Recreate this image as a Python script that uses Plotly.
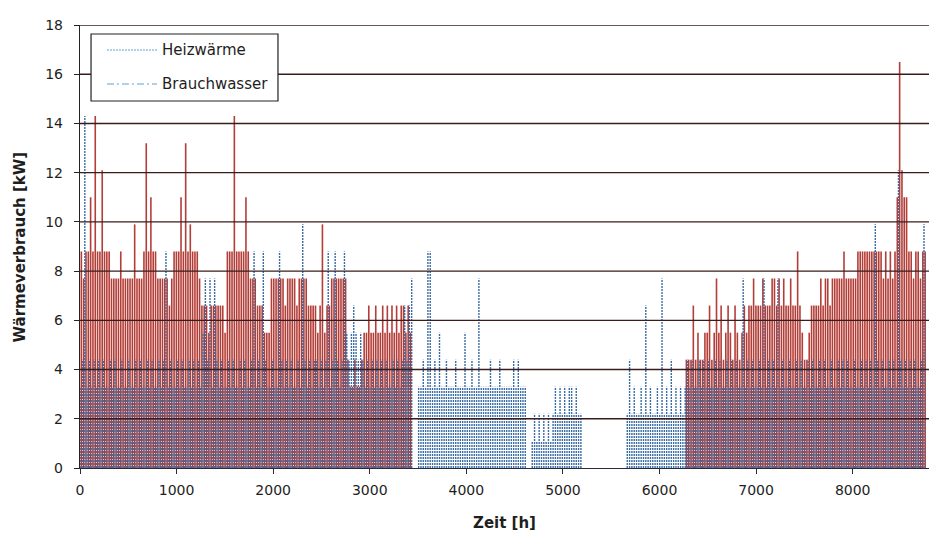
import plotly.graph_objects as go

# Daily peak loads in kW, one value per day of the year (day 0 = 1 January)
heizwaerme_daily_max = [
    8.8, 7.7, 8.8, 8.8, 11, 8.8, 14.3, 8.8, 8.8, 12.1,
    8.8, 8.8, 8.8, 7.7, 7.7, 7.7, 7.7, 8.8, 7.7, 7.7,
    7.7, 7.7, 7.7, 9.9, 7.7, 7.7, 7.7, 8.8, 13.2, 8.8,
    11, 8.8, 8.8, 7.7, 7.7, 7.7, 7.7, 7.7, 6.6, 7.7,
    8.8, 8.8, 8.8, 11, 8.8, 13.2, 8.8, 9.9, 8.8, 8.8,
    8.8, 7.7, 6.6, 6.6, 6.6, 5.5, 6.6, 6.6, 6.6, 6.6,
    6.6, 6.6, 5.5, 8.8, 8.8, 8.8, 14.3, 8.8, 8.8, 8.8,
    8.8, 11, 8.8, 7.7, 7.7, 7.7, 6.6, 6.6, 6.6, 5.5,
    5.5, 5.5, 7.7, 7.7, 7.7, 7.7, 7.7, 7.7, 6.6, 7.7,
    7.7, 7.7, 7.7, 6.6, 7.7, 7.7, 7.7, 7.7, 6.6, 6.6,
    6.6, 6.6, 5.5, 6.6, 9.9, 5.5, 6.6, 6.6, 7.7, 7.7,
    7.7, 7.7, 7.7, 7.7, 7.7, 4.4, 3.3, 3.3, 4.4, 3.3,
    3.3, 4.4, 5.5, 5.5, 6.6, 5.5, 5.5, 6.6, 5.5, 5.5,
    6.6, 5.5, 6.6, 5.5, 6.6, 5.5, 6.6, 5.5, 6.6, 6.6,
    5.5, 6.6, 5.5, 0, 0, 0, 0, 0, 0, 0,
    0, 0, 0, 0, 0, 0, 0, 0, 0, 0,
    0, 0, 0, 0, 0, 0, 0, 0, 0, 0,
    0, 0, 0, 0, 0, 0, 0, 0, 0, 0,
    0, 0, 0, 0, 0, 0, 0, 0, 0, 0,
    0, 0, 0, 0, 0, 0, 0, 0, 0, 0,
    0, 0, 0, 0, 0, 0, 0, 0, 0, 0,
    0, 0, 0, 0, 0, 0, 0, 0, 0, 0,
    0, 0, 0, 0, 0, 0, 0, 0, 0, 0,
    0, 0, 0, 0, 0, 0, 0, 0, 0, 0,
    0, 0, 0, 0, 0, 0, 0, 0, 0, 0,
    0, 0, 0, 0, 0, 0, 0, 0, 0, 0,
    0, 4.4, 4.4, 4.4, 6.6, 4.4, 5.5, 4.4, 4.4, 5.5,
    5.5, 6.6, 4.4, 5.5, 7.7, 5.5, 6.6, 4.4, 5.5, 6.6,
    5.5, 4.4, 6.6, 5.5, 4.4, 5.5, 6.6, 5.5, 6.6, 6.6,
    7.7, 6.6, 6.6, 6.6, 7.7, 6.6, 6.6, 6.6, 7.7, 7.7,
    6.6, 7.7, 6.6, 7.7, 6.6, 6.6, 7.7, 6.6, 6.6, 8.8,
    6.6, 5.5, 4.4, 4.4, 5.5, 6.6, 6.6, 6.6, 6.6, 7.7,
    6.6, 7.7, 7.7, 6.6, 7.7, 7.7, 7.7, 7.7, 7.7, 8.8,
    7.7, 7.7, 7.7, 7.7, 7.7, 8.8, 8.8, 8.8, 8.8, 8.8,
    8.8, 8.8, 8.8, 8.8, 8.8, 8.8, 7.7, 8.8, 7.7, 8.8,
    7.7, 8.8, 11, 16.5, 12.1, 11, 11, 8.8, 8.8, 7.7,
    8.8, 8.8, 7.7, 8.8, 8.8,
]

brauchwasser_daily_max = [
    3.3, 4.4, 14.3, 3.3, 4.4, 3.3, 4.4, 3.3, 4.4, 3.3,
    4.4, 3.3, 3.3, 4.4, 3.3, 4.4, 3.3, 3.3, 4.4, 3.3,
    3.3, 4.4, 3.3, 3.3, 4.4, 3.3, 4.4, 3.3, 3.3, 4.4,
    3.3, 4.4, 3.3, 3.3, 4.4, 3.3, 4.4, 8.8, 3.3, 4.4,
    3.3, 3.3, 4.4, 3.3, 4.4, 3.3, 3.3, 4.4, 3.3, 4.4,
    3.3, 4.4, 3.3, 5.5, 7.7, 4.4, 7.7, 3.3, 7.7, 4.4,
    3.3, 4.4, 3.3, 3.3, 4.4, 3.3, 4.4, 3.3, 3.3, 4.4,
    3.3, 4.4, 3.3, 3.3, 4.4, 8.8, 3.3, 4.4, 3.3, 8.8,
    4.4, 3.3, 3.3, 4.4, 3.3, 3.3, 8.8, 4.4, 3.3, 4.4,
    3.3, 4.4, 3.3, 3.3, 4.4, 3.3, 9.9, 4.4, 3.3, 4.4,
    3.3, 4.4, 4.4, 3.3, 4.4, 3.3, 4.4, 8.8, 3.3, 4.4,
    8.8, 4.4, 3.3, 4.4, 8.8, 5.5, 4.4, 5.5, 6.6, 5.5,
    4.4, 5.5, 4.4, 3.3, 4.4, 3.3, 4.4, 3.3, 4.4, 3.3,
    4.4, 3.3, 4.4, 3.3, 3.3, 4.4, 3.3, 4.4, 3.3, 4.4,
    6.6, 4.4, 6.6, 7.7, 0, 0, 3.3, 3.3, 4.4, 3.3,
    8.8, 8.8, 3.3, 4.4, 3.3, 5.5, 3.3, 3.3, 4.4, 3.3,
    3.3, 3.3, 4.4, 3.3, 3.3, 3.3, 5.5, 3.3, 3.3, 4.4,
    3.3, 3.3, 7.7, 3.3, 3.3, 3.3, 3.3, 4.4, 3.3, 3.3,
    3.3, 4.4, 3.3, 3.3, 3.3, 3.3, 3.3, 4.4, 3.3, 4.4,
    3.3, 3.3, 3.3, 0, 0, 1.1, 2.2, 1.1, 2.2, 1.1,
    2.2, 1.1, 2.2, 1.1, 2.2, 3.3, 2.2, 3.3, 2.2, 3.3,
    2.2, 3.3, 3.3, 2.2, 3.3, 2.2, 2.2, 0, 0, 0,
    0, 0, 0, 0, 0, 0, 0, 0, 0, 0,
    0, 0, 0, 0, 0, 0, 2.2, 4.4, 2.2, 3.3,
    2.2, 2.2, 3.3, 2.2, 6.6, 2.2, 3.3, 2.2, 2.2, 3.3,
    2.2, 7.7, 2.2, 3.3, 2.2, 4.4, 2.2, 3.3, 2.2, 3.3,
    2.2, 3.3, 4.4, 3.3, 4.4, 3.3, 3.3, 4.4, 3.3, 4.4,
    3.3, 4.4, 3.3, 3.3, 4.4, 3.3, 4.4, 3.3, 3.3, 4.4,
    3.3, 4.4, 3.3, 4.4, 3.3, 3.3, 7.7, 3.3, 4.4, 3.3,
    4.4, 3.3, 3.3, 4.4, 3.3, 7.7, 3.3, 4.4, 3.3, 4.4,
    3.3, 7.7, 3.3, 4.4, 3.3, 3.3, 4.4, 3.3, 3.3, 4.4,
    3.3, 4.4, 3.3, 3.3, 4.4, 3.3, 4.4, 3.3, 3.3, 4.4,
    3.3, 4.4, 3.3, 3.3, 4.4, 3.3, 3.3, 4.4, 3.3, 4.4,
    3.3, 4.4, 3.3, 3.3, 4.4, 3.3, 3.3, 4.4, 3.3, 4.4,
    3.3, 4.4, 3.3, 9.9, 4.4, 3.3, 4.4, 3.3, 3.3, 4.4,
    3.3, 4.4, 3.3, 12.1, 4.4, 3.3, 4.4, 3.3, 4.4, 3.3,
    4.4, 3.3, 3.3, 4.4, 9.9,
]

series_names = ["Heizwärme", "Brauchwasser"]
y_tick_values = [0, 2, 4, 6, 8, 10, 12, 14, 16, 18]
x_tick_values = [0, 1000, 2000, 3000, 4000, 5000, 6000, 7000, 8000]

HOURS_PER_DAY = 24
FONT = "DejaVu Sans"
TEXT_COLOR = "#1e1e1e"
RED = "rgba(172,44,38,0.92)"
BLUE = "#3a6ca6"
LEGEND_BLUE = "#5aa4d2"
GRID = "#3b1c1c"


def daily_strokes(values, hour_in_day):
    """One vertical stroke per day, from 0 up to that day's peak."""
    xs, ys = [], []
    for day, peak in enumerate(values):
        if peak <= 0:
            continue
        hour = day * HOURS_PER_DAY + hour_in_day
        xs += [hour, hour, None]
        ys += [0, peak, None]
    return xs, ys


fig = go.Figure()

# space heating peaks around midday of each day
hx, hy = daily_strokes(heizwaerme_daily_max, 14)
fig.add_trace(go.Scatter(
    x=hx, y=hy, mode="lines", name=series_names[0], showlegend=False,
    line=dict(color=RED, width=1.6),
    hoverinfo="skip",
))

# hot water strokes sit between the heating strokes
bx, by = daily_strokes(brauchwasser_daily_max, 2)
fig.add_trace(go.Scatter(
    x=bx, y=by, mode="lines", name=series_names[1], showlegend=False,
    line=dict(color=BLUE, width=1.4, dash="2px,1px"),
    hoverinfo="skip",
))

# horizontal grid drawn over the data
shapes = []
for v in y_tick_values[1:]:
    shapes.append(dict(
        type="line", xref="paper", yref="y", x0=0, x1=1, y0=v, y1=v,
        line=dict(color=GRID, width=1.4), layer="above",
    ))

# legend box with line samples
shapes.append(dict(
    type="rect", xref="paper", yref="paper",
    x0=0.013, x1=0.2332, y0=0.8284, y1=0.9797,
    line=dict(color="#222222", width=1.2), fillcolor="white", layer="above",
))
shapes.append(dict(
    type="line", xref="paper", yref="paper",
    x0=0.0318, x1=0.0907, y0=0.9436, y1=0.9436,
    line=dict(color=LEGEND_BLUE, width=1.2, dash="2px,1px"), layer="above",
))
shapes.append(dict(
    type="line", xref="paper", yref="paper",
    x0=0.0318, x1=0.0907, y0=0.8668, y1=0.8668,
    line=dict(color=LEGEND_BLUE, width=1.2, dash="7px,3px,2px,3px"), layer="above",
))

annotations = [
    dict(text=series_names[0], xref="paper", yref="paper", x=0.0942, y=0.9436,
         xanchor="left", yanchor="middle", showarrow=False,
         font=dict(family=FONT, size=15, color=TEXT_COLOR)),
    dict(text=series_names[1], xref="paper", yref="paper", x=0.0942, y=0.8668,
         xanchor="left", yanchor="middle", showarrow=False,
         font=dict(family=FONT, size=15, color=TEXT_COLOR)),
    dict(text="<b>Wärmeverbrauch [kW]</b>", xref="paper", yref="paper",
         x=-0.0707, y=0.5, xanchor="center", yanchor="middle", textangle=-90,
         showarrow=False, font=dict(family=FONT, size=15, color=TEXT_COLOR)),
    dict(text="<b>Zeit [h]</b>", xref="paper", yref="paper",
         x=0.5, y=-0.124, xanchor="center", yanchor="middle",
         showarrow=False, font=dict(family=FONT, size=15, color=TEXT_COLOR)),
]

fig.update_layout(
    width=929, height=535,
    margin=dict(l=80, r=0, t=25, b=67),
    paper_bgcolor="white", plot_bgcolor="white",
    showlegend=False,
    shapes=shapes,
    annotations=annotations,
    font=dict(family=FONT, size=14, color=TEXT_COLOR),
    xaxis=dict(
        range=[0, 8790], tickvals=x_tick_values,
        ticktext=[str(v) for v in x_tick_values],
        showgrid=False, zeroline=False,
        showline=True, linecolor="#2a2a3a", linewidth=1.4,
        ticks="outside", ticklen=5, tickcolor="#2a2a3a",
        ticklabelstandoff=4,
        tickfont=dict(family=FONT, size=14, color=TEXT_COLOR),
        layer="above traces",
    ),
    yaxis=dict(
        range=[0, 18], tickvals=y_tick_values,
        ticktext=[str(v) for v in y_tick_values],
        showgrid=False, zeroline=False,
        showline=True, linecolor="#222222", linewidth=1.4,
        ticks="outside", ticklen=5, tickcolor="#222222",
        ticklabelstandoff=8,
        tickfont=dict(family=FONT, size=14, color=TEXT_COLOR),
        layer="above traces",
    ),
)

fig.write_html("out.html")
